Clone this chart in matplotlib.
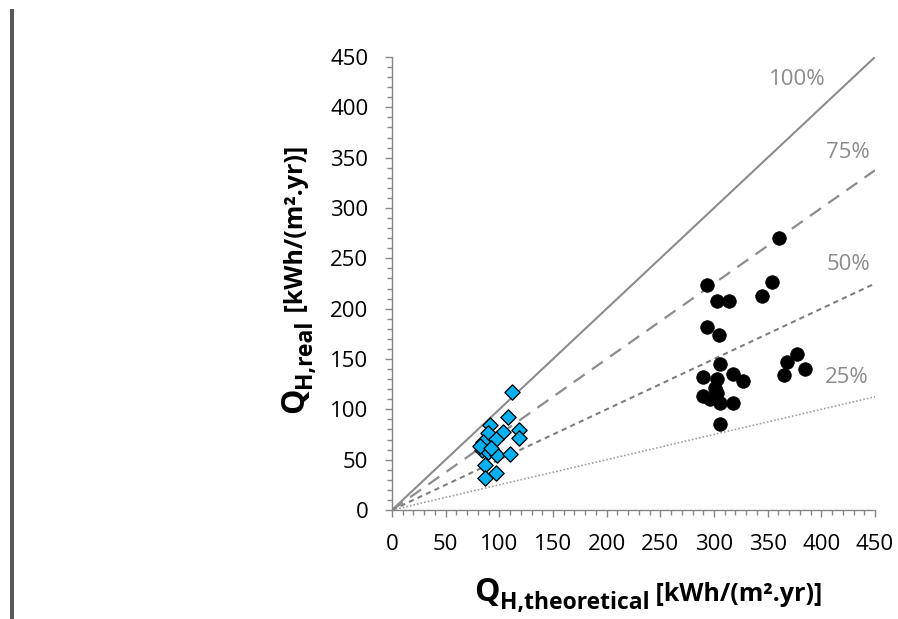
import matplotlib
matplotlib.use('agg')
from matplotlib import pyplot as plt
from matplotlib import patches as pltpatches
import numpy as np

plt.rcParams['font.family'] = ['Open Sans', 'DejaVu Sans']

# measured buildings: theoretical vs real heating demand [kWh/(m2.yr)]
blue_theoretical = [111.5, 107.8, 91.3, 103.7, 118.6, 118.6, 89.7, 96.9, 85.0,
                    83.6, 89.7, 97.5, 109.9, 86.6, 96.9, 86.6, 82.0, 92.0]
blue_real = [117.5, 92.7, 84.4, 77.8, 79.5, 71.2, 76.2, 70.2, 67.8,
             59.6, 57.9, 54.6, 55.3, 44.7, 36.5, 31.5, 64.0, 62.0]

black_theoretical = [360.9, 353.8, 344.5, 293.2, 303.2, 314.0, 293.2, 304.7,
                     305.6, 290.0, 302.4, 317.4, 327.3, 301.0, 289.5, 296.3,
                     305.6, 318.0, 305.6, 302.4, 377.7, 367.8, 384.8, 365.6]
black_real = [269.9, 226.2, 212.6, 223.2, 207.6, 207.6, 182.1, 173.5,
              145.0, 131.8, 129.8, 135.1, 128.1, 120.9, 113.2, 110.0,
              106.0, 106.6, 85.4, 115.9, 155.0, 146.7, 140.4, 134.1]

ratios = [1.0, 0.75, 0.5, 0.25]
ratio_labels = ['100%', '75%', '50%', '25%']
label_pos = [(378, 428), (425, 355), (425.5, 244), (424, 132)]

W, H = 898, 619
fig = plt.figure(figsize=(W / 100, H / 100), dpi=100)
ax = fig.add_axes([392 / W, 1 - 510 / H, 483 / W, 453 / H])

# reference lines
xs = np.array([0, 450])
styles = [
    dict(color='#8c8c8c', lw=1.5, ls='-'),
    dict(color='#8c8c8c', lw=1.6, ls=(0, (6, 4))),
    dict(color='#7f7f7f', lw=1.5, ls=(0, (2.5, 2))),
    dict(color='#a0a0a0', lw=1.2, ls=(0, (1, 1.2))),
]
for r, st in zip(ratios, styles):
    ax.plot(xs, r * xs, zorder=1, **st)

for lab, (lx, ly) in zip(ratio_labels, label_pos):
    ax.text(lx, ly, lab, color='#8c8c8c', fontsize=16, ha='center', va='center')

ax.scatter(blue_theoretical, blue_real, marker='D', s=7.8 ** 2, c='#00b0f0',
           edgecolors='black', linewidths=0.9, zorder=3)
ax.scatter(black_theoretical, black_real, marker='o', s=9.8 ** 2, c='black',
           edgecolors='black', linewidths=0.5, zorder=3)

ax.set_xlim(0, 450)
ax.set_ylim(0, 450)
ax.set_xticks(np.arange(0, 451, 50))
ax.set_yticks(np.arange(0, 451, 50))
ax.set_xticks(np.arange(0, 451, 10), minor=True)
ax.set_yticks(np.arange(0, 451, 10), minor=True)
for s in ['top', 'right']:
    ax.spines[s].set_visible(False)
for s in ['left', 'bottom']:
    ax.spines[s].set_color('#868686')
    ax.spines[s].set_linewidth(1.0)
ax.tick_params(which='major', direction='out', length=5, width=1.0,
               color='#868686', labelsize=16, labelcolor='black', pad=12)
ax.tick_params(which='minor', direction='out', length=3.5, width=1.0,
               color='#868686')

# left grey bar
fig.patches.append(pltpatches.Rectangle((10 / W, 0), 4 / W, 1 - 9 / H,
                                        transform=fig.transFigure,
                                        facecolor='#595959', edgecolor='none'))

renderer = fig.canvas.get_renderer()


def place_label(x0, y0, pieces, rotation=0):
    # pieces: (text, size, offset in the text's up direction, px)
    pos = 0
    for s, size, dy in pieces:
        if rotation == 0:
            t = fig.text((x0 + pos) / W, (y0 + dy) / H, s, fontsize=size,
                         fontweight='bold', ha='left', va='baseline')
        else:
            t = fig.text((x0 - dy) / W, (y0 + pos) / H, s, fontsize=size,
                         fontweight='bold', ha='left', va='baseline',
                         rotation=90, rotation_mode='anchor')
        bb = t.get_window_extent(renderer)
        pos += bb.width if rotation == 0 else bb.height


unit = ' [kWh/(m\u00b2.yr)]'
place_label(474, H - 601, [('Q', 23, 0), ('H,theoretical', 16.5, -8),
                           (unit, 18, 0)])
place_label(303, H - 413, [('Q', 23, 0), ('H,real', 16.5, -8),
                           (unit, 18, 0)], rotation=90)

fig.savefig('out.png', dpi=100)
